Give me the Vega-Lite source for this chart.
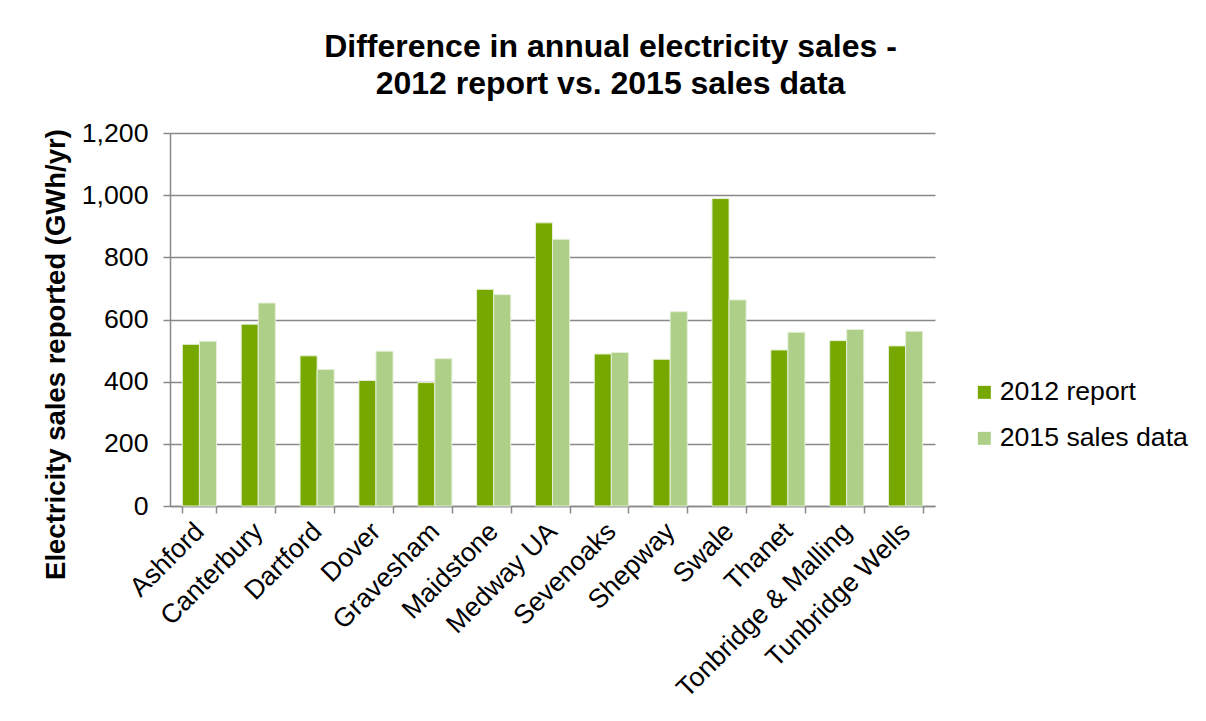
{
  "$schema": "https://vega.github.io/schema/vega-lite/v6.json",
  "width": 765,
  "height": 373,
  "autosize": {"type": "none"},
  "padding": {"left": 170, "top": 133, "right": 271, "bottom": 215},
  "background": "white",
  "config": {
    "font": "Liberation Sans",
    "view": {"stroke": null},
    "axis": {"labelFont": "Liberation Sans", "titleFont": "Liberation Sans"}
  },
  "title": {
    "text": ["Difference in annual electricity sales -", "2012 report vs. 2015 sales data"],
    "font": "Liberation Sans",
    "fontSize": 32,
    "fontWeight": "bold",
    "color": "#000000",
    "anchor": "middle",
    "dx": 58,
    "offset": 19,
    "lineHeight": 37
  },
  "data": {
    "values": [
      {"district": "Ashford", "series": "2012 report", "value": 520},
      {"district": "Ashford", "series": "2015 sales data", "value": 530},
      {"district": "Canterbury", "series": "2012 report", "value": 585},
      {"district": "Canterbury", "series": "2015 sales data", "value": 653},
      {"district": "Dartford", "series": "2012 report", "value": 483},
      {"district": "Dartford", "series": "2015 sales data", "value": 439},
      {"district": "Dover", "series": "2012 report", "value": 404},
      {"district": "Dover", "series": "2015 sales data", "value": 498},
      {"district": "Gravesham", "series": "2012 report", "value": 397},
      {"district": "Gravesham", "series": "2015 sales data", "value": 474},
      {"district": "Maidstone", "series": "2012 report", "value": 697},
      {"district": "Maidstone", "series": "2015 sales data", "value": 680},
      {"district": "Medway UA", "series": "2012 report", "value": 911},
      {"district": "Medway UA", "series": "2015 sales data", "value": 858},
      {"district": "Sevenoaks", "series": "2012 report", "value": 489},
      {"district": "Sevenoaks", "series": "2015 sales data", "value": 494},
      {"district": "Shepway", "series": "2012 report", "value": 472},
      {"district": "Shepway", "series": "2015 sales data", "value": 625},
      {"district": "Swale", "series": "2012 report", "value": 989},
      {"district": "Swale", "series": "2015 sales data", "value": 663},
      {"district": "Thanet", "series": "2012 report", "value": 502},
      {"district": "Thanet", "series": "2015 sales data", "value": 559},
      {"district": "Tonbridge & Malling", "series": "2012 report", "value": 532},
      {"district": "Tonbridge & Malling", "series": "2015 sales data", "value": 568},
      {"district": "Tunbridge Wells", "series": "2012 report", "value": 515},
      {"district": "Tunbridge Wells", "series": "2015 sales data", "value": 562}
    ]
  },
  "mark": {"type": "bar", "stroke": "#e4efd6", "strokeWidth": 1},
  "encoding": {
    "x": {
      "field": "district",
      "type": "nominal",
      "sort": null,
      "scale": {"paddingInner": 0.42, "paddingOuter": 0.21},
      "axis": {
        "title": null,
        "labelAngle": -45,
        "labelAlign": "right",
        "labelBaseline": "middle",
        "labelFontSize": 26.67,
        "labelColor": "#000000",
        "labelPadding": 14,
        "labelLimit": 0,
        "labelOverlap": false,
        "tickBand": "extent",
        "tickColor": "#898989",
        "tickWidth": 1.5,
        "tickSize": 7,
        "domainColor": "#898989",
        "domainWidth": 1.5,
        "grid": false
      }
    },
    "xOffset": {"field": "series", "type": "nominal", "sort": null},
    "y": {
      "field": "value",
      "type": "quantitative",
      "scale": {"domain": [0, 1200], "nice": false},
      "axis": {
        "title": "Electricity sales reported (GWh/yr)",
        "titleFontSize": 27.5,
        "titleFontWeight": "bold",
        "titleColor": "#000000",
        "titleX": -114,
        "titleY": 221,
        "titleAngle": -90,
        "titleAlign": "center",
        "titleBaseline": "middle",
        "values": [0, 200, 400, 600, 800, 1000, 1200],
        "format": ",d",
        "labelFontSize": 26.67,
        "labelColor": "#000000",
        "labelPadding": 15,
        "tickColor": "#898989",
        "tickWidth": 1.5,
        "tickSize": 7,
        "domainColor": "#898989",
        "domainWidth": 1.5,
        "gridColor": "#898989",
        "gridWidth": 1.5
      }
    },
    "color": {
      "field": "series",
      "type": "nominal",
      "sort": null,
      "scale": {"domain": ["2012 report", "2015 sales data"], "range": ["#77a800", "#adcf88"]},
      "legend": {
        "title": null,
        "orient": "none",
        "legendX": 801,
        "legendY": 246,
        "symbolType": "square",
        "symbolSize": 169,
        "symbolStrokeWidth": 0,
        "labelFontSize": 26.67,
        "labelColor": "#000000",
        "labelFont": "Liberation Sans",
        "labelLimit": 0,
        "rowPadding": 18,
        "labelOffset": 2
      }
    }
  }
}
